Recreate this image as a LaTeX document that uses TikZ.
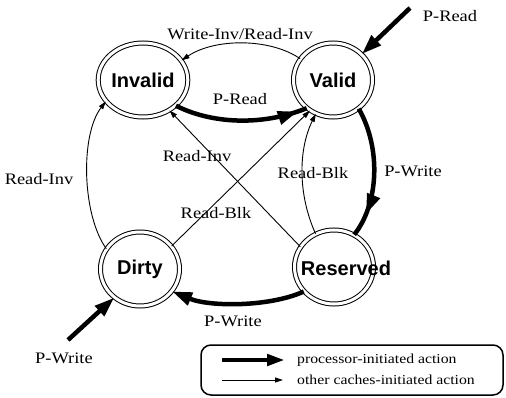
\documentclass[tikz,border=0pt]{standalone}
\usepackage{fontspec}
\setmainfont{Liberation Serif}[FakeStretch=1.15]
\newfontfamily\statefont{Liberation Sans}
\usetikzlibrary{arrows.meta,shapes.geometric,decorations.markings}

\begin{document}
\begin{tikzpicture}[x=1pt,y=-1pt,
  state/.style={ellipse, draw, line width=1pt, double, double distance=3pt,
    minimum width=79pt, minimum height=74pt, inner sep=0pt,
    font=\fontsize{20}{20}\statefont\bfseries},
  statetext/.style={inner sep=0pt, font=\fontsize{20}{20}\statefont\bfseries},
  lbl/.style={inner sep=0pt, font=\fontsize{16}{16}\selectfont},
  legtext/.style={inner sep=0pt, anchor=west, font=\fontsize{13.7}{14}\selectfont},
  cachearrow/.style={line width=0.9pt, -{Triangle[length=8pt,width=5pt]}},
  procline/.style={line width=4.5pt},
  procarrow/.style={procline, -{Triangle[length=20pt,width=13pt]}},
  procmid/.style={procline, postaction={decorate, decoration={markings,
    mark=at position #1 with {\arrow{Triangle[length=20pt,width=13pt]}}}}},
]
\useasboundingbox (0,0) rectangle (506,398);

% cache states
\node[state] (I) at (143,80) {Invalid};
\node[state] (V) at (333,80) {Valid};
\node[state] (D) at (140,269) {Dirty};
\node[state] (R) at (334,267) {};
\node[statetext] (Rt) at (346,268) {Reserved};

% processor-initiated transitions
\draw[procmid=0.93] (I.-38) .. controls (210,123) and (260,127) .. (V.-133);
\draw[procmid=0.82] (V.-48) .. controls (382,150) and (378,205) .. (R.58);
\draw[procarrow] (R.-141) .. controls (270,307) and (210,307) .. (D.-35);

\coordinate (prs) at (410,8);
\coordinate (pws) at (68,340);
\draw[procarrow] (prs) -- (V.42);
\draw[procarrow] (pws) -- (D.-132);

% transitions caused by other caches
\draw[cachearrow] (V.147) .. controls (270,38) and (215,38) .. (I.27);
\draw[cachearrow] (R.119) .. controls (298,195) and (298,150) .. (V.-117);
\draw[cachearrow] (R.149) -- (I.-49);
\draw[cachearrow] (D.36) -- (V.-127);
\draw[cachearrow] (D.149) .. controls (82,215) and (80,135) .. (I.210);

% transition labels
\node[lbl] (l1) at (240,34) {Write-Inv/Read-Inv};
\node[lbl] (l2) at (240,99) {P-Read};
\node[lbl] (l3) at (413,171) {P-Write};
\node[lbl] (l4) at (313,173) {Read-Blk};
\node[lbl] (l5) at (197,156) {Read-Inv};
\node[lbl] (l6) at (216,213) {Read-Blk};
\node[lbl] (l7) at (39,179) {Read-Inv};
\node[lbl] (l8) at (233,321) {P-Write};
\node[lbl] (l9) at (450,16) {P-Read};
\node[lbl] (l10) at (64,358) {P-Write};

% legend
\node[draw, line width=1.5pt, rounded corners=10pt, minimum width=302pt,
  minimum height=50pt, inner sep=0pt] (leg) at (352,370) {};
\coordinate (la1) at (222,360);
\coordinate (la2) at (285,360);
\coordinate (lb1) at (222,380);
\coordinate (lb2) at (283,380);
\draw[procline, -{Triangle[length=18pt,width=11pt]}] (la1) -- (la2);
\draw[cachearrow] (lb1) -- (lb2);
\node[legtext] (lt1) at (297,360) {processor-initiated action};
\node[legtext] (lt2) at (297,380) {other caches-initiated action};
\end{tikzpicture}
\end{document}
